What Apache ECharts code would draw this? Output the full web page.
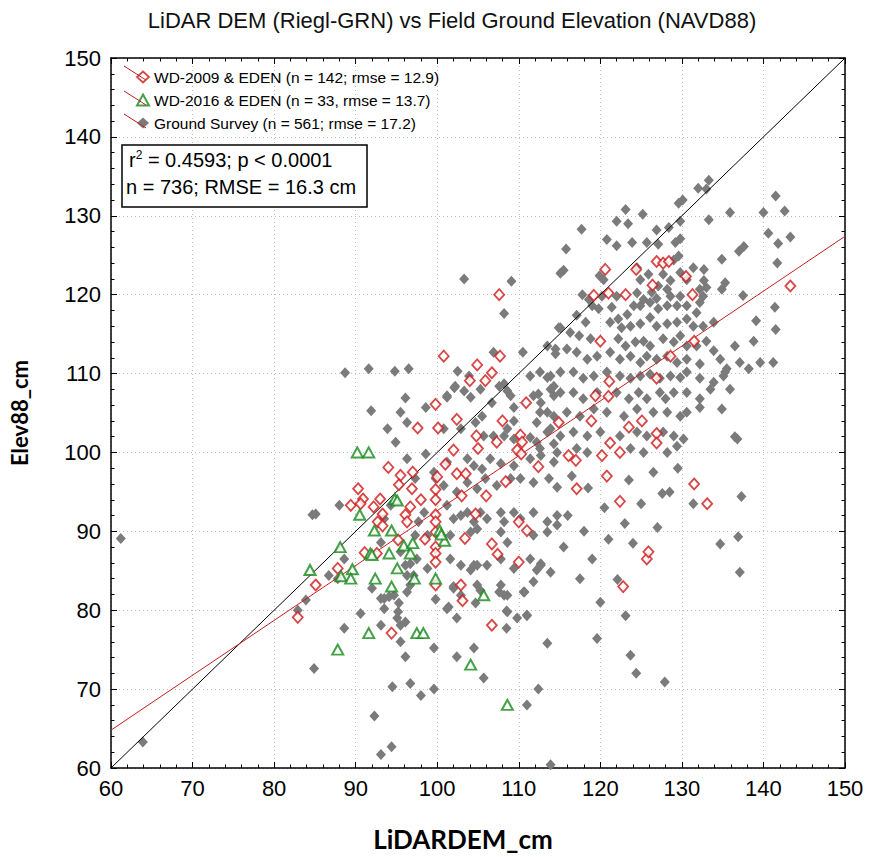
<!DOCTYPE html>
<html>
<head>
<meta charset="utf-8">
<title>LiDAR DEM vs Field Ground Elevation</title>
<script src="https://cdn.jsdelivr.net/npm/echarts@6/dist/echarts.min.js"></script>
<style>
  html, body { margin: 0; padding: 0; background: #ffffff; }
  #chart { width: 870px; height: 857px; }
</style>
</head>
<body>
<div id="chart"></div>
<script>
// Axis range (cm, NAVD88)
const axisMin = 60;
const axisMax = 150;
const axisStep = 10;

// 1:1 reference line and the fitted regression line (end points in data units)
const oneToOneLine = [[60, 60], [150, 150]];
const regressionLine = [[60, 64.8], [150, 127.4]];

// Legend entries and summary statistics
const seriesNames = [
  'WD-2009 & EDEN (n = 142; rmse = 12.9)',
  'WD-2016 & EDEN (n = 33, rmse = 13.7)',
  'Ground Survey (n = 561; rmse = 17.2)'
];
const statsLine1 = ['r', '2', ' = 0.4593; p < 0.0001'];
const statsLine2 = 'n = 736; RMSE = 16.3 cm';

// WD-2009 & EDEN water-depth sites: [LiDAR DEM, field elevation]
const wd2009 = [
  [104.0,109.1],[105.9,109.1],[99.8,106.1],[110.9,106.3],[102.4,104.2],[97.6,103.1],[100.1,103.1],
  [104.8,102.1],[107.3,101.3],[110.2,102.2],[110.4,101.3],[102.0,100.3],[109.8,100.3],[110.3,99.8],
  [112.4,98.2],[94.0,98.1],[95.5,97.1],[102.4,97.3],[103.5,97.3],[95.3,95.9],[100.0,96.9],[108.4,96.3],
  [90.3,95.4],[90.9,94.1],[96.9,95.4],[99.8,95.3],[99.8,94.0],[98.0,94.0],[93.0,94.1],[92.2,93.1],
  [89.4,93.3],[96.7,93.1],[96.1,92.1],[96.3,91.2],[93.3,92.2],[92.7,91.2],[93.3,90.7],[99.8,92.1],
  [99.8,91.2],[99.8,89.9],[104.7,92.2],[110.0,91.2],[111.0,90.1],[95.2,88.9],[103.4,89.1],[106.7,88.4],
  [107.4,87.1],[99.8,88.0],[99.8,87.2],[99.8,86.1],[91.1,87.3],[92.6,87.2],[87.8,85.3],[110.0,86.1],
  [85.1,83.2],[99.8,83.2],[102.9,83.2],[103.1,81.2],[106.7,78.1],[94.4,77.1],[82.9,79.1],[107.6,120.0],
  [100.8,112.2],[104.9,111.1],[107.7,112.2],[106.7,110.1],[120.6,123.2],[124.4,123.2],[126.9,124.2],
  [127.7,124.0],[128.4,124.2],[119.2,119.9],[121.0,120.2],[123.1,120.0],[131.3,120.0],[130.5,122.3],
  [126.4,121.2],[143.3,121.1],[120.0,114.1],[131.5,114.1],[128.6,112.2],[121.1,109.0],[126.9,109.4],
  [119.4,107.2],[121.0,107.1],[114.9,103.8],[118.9,104.0],[123.5,103.2],[125.1,104.0],[126.9,102.4],
  [126.9,101.2],[121.2,101.2],[122.4,100.0],[116.1,99.6],[120.2,99.6],[122.8,83.0],[125.7,86.5],
  [117.1,95.4],[122.4,93.8],[133.1,93.5],[131.5,96.0],[125.9,87.4],[90.6,93.5],[117.0,99.0],[120.8,97.0],
  [101.0,98.5],[105.0,100.5],[108.0,104.0],[106.0,94.5],[98.5,89.0],[97.0,97.5],[103.0,94.5]
];

// WD-2016 & EDEN water-depth sites
const wd2016 = [
  [90.2,100.0],[91.6,100.0],[94.8,94.1],[95.1,93.9],[90.5,92.1],[92.3,90.1],[94.4,90.1],[100.3,90.1],
  [100.9,88.8],[88.1,88.0],[91.8,87.2],[94.1,87.2],[95.9,88.2],[96.7,87.2],[89.6,85.2],[88.2,84.3],
  [84.4,85.1],[89.4,84.0],[92.4,84.0],[95.1,85.3],[97.2,84.0],[99.8,84.0],[94.4,83.0],[91.6,77.1],
  [97.5,77.1],[98.3,77.1],[105.7,81.9],[104.1,73.1],[108.6,68.0],[87.8,75.0],[100.5,89.6],[92.0,87.0],
  [97.0,88.5]
];

// Ground survey points
const groundSurvey = [
  [133.3,134.5],[132.0,133.5],[133.0,133.4],[129.6,131.6],[130.1,132.0],[141.5,132.5],[123.1,130.8],
  [125.2,130.2],[135.9,130.4],[140.0,130.4],[142.6,130.6],[133.3,129.5],[122.0,129.3],[123.4,129.0],
  [117.7,128.3],[129.8,129.3],[128.4,128.5],[126.9,128.2],[129.8,127.1],[129.2,126.6],[120.8,127.0],
  [122.0,126.2],[123.9,126.6],[125.7,126.6],[127.1,126.4],[140.6,127.8],[141.8,126.5],[143.3,127.3],
  [115.8,125.8],[137.6,126.1],[137.0,125.5],[129.6,124.9],[129.0,124.4],[124.5,123.4],[134.9,124.5],
  [141.7,124.0],[115.5,123.1],[119.9,122.4],[120.4,121.9],[131.4,123.4],[132.7,123.2],[124.9,121.9],
  [125.9,122.6],[127.7,122.6],[128.6,121.8],[129.8,122.8],[130.6,121.9],[127.1,121.1],[128.2,120.7],
  [132.7,121.8],[132.2,120.7],[133.0,120.9],[135.3,121.5],[134.9,120.7],[117.8,120.0],[118.6,119.4],
  [120.2,119.8],[122.0,119.8],[124.5,120.2],[125.3,119.4],[126.3,120.3],[126.9,119.5],[128.6,119.8],
  [129.8,119.8],[132.6,119.8],[132.2,119.0],[131.8,117.7],[137.5,119.9],[119.0,118.6],[119.8,118.2],
  [121.4,118.4],[122.2,116.9],[123.3,117.5],[124.1,118.6],[124.9,118.6],[126.1,119.0],[127.1,118.2],
  [128.2,118.6],[129.4,118.6],[130.6,118.6],[141.4,118.4],[117.1,117.4],[118.2,116.5],[121.2,116.5],
  [122.6,115.8],[123.7,116.0],[124.9,116.3],[126.1,117.1],[126.9,116.0],[128.2,116.3],[129.4,116.5],
  [130.6,116.9],[131.4,116.0],[132.6,116.0],[133.9,116.5],[141.5,115.6],[139.1,116.7],[115.1,115.8],
  [116.3,115.2],[117.4,114.8],[118.8,114.4],[122.2,114.4],[123.1,113.5],[124.3,114.0],[125.3,114.1],
  [126.1,113.5],[127.7,114.4],[129.0,114.0],[129.8,114.8],[130.6,113.5],[131.8,113.5],[133.0,114.1],
  [133.9,112.9],[136.5,113.5],[138.8,114.1],[113.5,113.5],[114.5,112.5],[115.9,113.1],[117.1,112.7],
  [118.4,111.8],[119.6,112.2],[121.2,112.7],[122.4,111.8],[123.7,112.2],[124.9,111.4],[125.7,112.2],
  [126.9,111.8],[128.2,112.2],[129.4,111.4],[130.6,111.8],[132.2,111.2],[134.7,111.8],[135.5,110.6],
  [137.1,111.4],[138.2,110.6],[139.6,111.4],[141.2,111.4],[112.6,110.2],[113.9,109.7],[115.1,110.2],
  [116.7,110.2],[117.9,109.4],[119.2,109.7],[120.8,110.2],[122.4,109.7],[123.7,109.4],[124.9,109.7],
  [126.1,109.9],[127.3,109.4],[128.6,109.7],[129.8,109.5],[130.6,110.2],[132.2,109.4],[133.9,108.9],
  [135.1,109.7],[135.9,108.0],[113.9,108.0],[115.1,107.6],[116.7,107.6],[117.9,106.8],[119.6,107.6],
  [122.0,107.6],[123.5,106.8],[124.7,107.6],[125.7,106.8],[127.3,107.6],[129.0,107.6],[130.6,107.6],
  [132.2,106.8],[133.5,108.0],[112.6,105.1],[114.3,104.6],[115.9,105.1],[117.5,104.6],[119.2,105.5],
  [120.8,105.1],[122.9,104.6],[124.5,105.5],[126.5,105.1],[128.0,106.8],[128.2,105.1],[129.8,104.6],
  [130.6,105.1],[113.5,102.6],[115.1,102.1],[116.7,102.6],[118.4,102.1],[120.0,102.6],[122.4,102.1],
  [124.5,102.6],[125.7,102.1],[127.7,102.6],[129.0,102.1],[130.2,101.7],[112.6,100.5],[114.7,100.0],
  [117.1,100.5],[118.4,100.0],[123.7,100.5],[125.3,100.0],[128.2,100.0],[129.4,100.8],[136.5,102.0],
  [134.9,105.5],[132.2,105.7],[135.3,110.2],
  [103.3,122.0],[109.1,121.7],[108.2,117.6],[106.9,112.7],[110.5,112.7],[88.7,110.1],[91.6,110.6],
  [94.8,110.3],[96.5,110.6],[102.5,110.3],[103.9,109.7],[102.1,108.2],[103.3,107.8],[101.2,107.2],
  [96.1,106.9],[108.2,108.7],[108.6,107.8],[111.4,109.7],[113.5,109.5],[114.5,113.1],[114.9,115.8],
  [114.3,108.4],[112.4,107.4],[114.3,107.2],[115.1,122.7],
  [102.2,108.4],[101.2,107.0],[104.1,107.0],[105.3,108.0],[106.7,106.3],[107.6,108.4],[109.0,107.2],
  [109.4,105.7],[111.8,107.2],[112.7,106.3],[113.5,105.1],[112.2,103.8],[109.4,104.0],[108.6,103.0],
  [91.9,105.3],[95.5,105.1],[96.3,103.8],[93.9,103.0],[94.9,101.3],[98.6,105.7],[100.8,103.0],
  [102.9,103.0],[104.7,103.8],[105.5,104.6],[105.7,102.1],[106.9,102.1],[108.2,102.1],[109.4,101.7],
  [111.4,101.9],[112.2,101.3],[113.9,103.0],[114.3,101.1],[96.3,99.2],[98.6,99.8],[99.6,97.5],
  [101.2,98.8],[103.7,99.2],[104.5,98.3],[105.5,97.9],[106.5,99.2],[107.8,98.6],[109.4,98.3],
  [111.4,99.2],[112.7,99.6],[114.3,98.8],[97.3,96.7],[99.8,96.7],[100.8,95.8],[102.4,95.0],
  [103.7,96.2],[104.9,95.4],[105.9,96.7],[107.3,95.8],[109.0,96.7],[110.2,96.7],[111.8,96.2],
  [113.7,96.7],[114.7,95.6],[88.0,93.3],[85.1,92.2],[94.3,93.3],[93.5,91.6],[98.4,92.4],[97.7,91.2],
  [98.8,89.5],[97.3,89.5],[101.2,93.3],[102.0,91.6],[102.9,92.0],[103.7,92.4],[104.5,91.2],
  [105.3,92.4],[106.1,91.6],[107.8,92.4],[108.2,91.2],[109.4,92.4],[110.2,91.6],[111.8,92.4],
  [113.5,91.2],[114.7,92.0],[101.6,89.5],[104.1,89.9],[104.9,90.3],[107.8,89.9],[108.6,88.6],
  [111.8,89.5],[113.5,89.9],[114.7,90.8],[93.1,88.6],[95.5,87.4],[97.5,86.5],[98.8,85.3],[96.7,85.9],
  [101.6,86.5],[102.9,85.7],[104.5,85.7],[106.1,85.7],[107.8,86.5],[109.4,85.3],[111.4,86.5],
  [112.7,85.7],[113.9,84.8],[88.6,86.5],[86.7,84.4],[87.8,84.0],[92.0,82.8],[93.1,81.5],[93.5,80.2],
  [94.7,81.9],[96.3,82.3],[97.1,84.4],[102.0,82.8],[104.9,83.2],[107.8,83.2],[108.6,81.9],[110.6,82.3],
  [111.8,83.6],[90.6,79.6],[88.6,77.7],[95.1,79.0],[95.5,78.1],[93.1,78.1],[101.2,80.2],[102.4,79.0],
  [108.6,79.8],[109.8,79.0],[111.0,79.4],[82.9,80.0],
  [96.1,85.7],[104.1,85.1],[104.9,85.7],[112.2,85.1],[112.7,85.9],[96.3,84.4],[96.7,83.2],[93.5,81.5],
  [94.1,81.7],[95.3,80.9],[95.2,79.8],[96.1,78.5],[99.8,81.4],[101.4,80.4],[102.0,83.0],[102.9,81.9],
  [104.7,80.9],[105.3,82.5],[107.6,82.3],[108.2,81.9],[110.7,82.3],[108.5,79.9],[111.0,79.3],
  [108.5,77.7],[113.5,75.8],[119.6,76.4],[122.1,83.9],[123.1,79.3],[123.7,74.3],[124.4,72.0],
  [127.9,70.9],[137.1,84.8],[95.5,76.0],[96.1,74.1],[99.6,75.2],[102.4,74.1],[104.5,75.2],[105.7,71.4],
  [94.5,70.3],[96.7,70.7],[98.0,69.2],[99.6,70.0],[111.0,68.0],[112.4,70.0],[94.4,62.7],[113.9,60.4],
  [93.1,61.7],[92.3,66.6],
  [61.2,89.1],[84.7,92.1],[83.9,81.3],[63.9,63.3],[84.9,72.6],
  [136.8,101.7],[137.3,94.4],[136.9,89.3],[134.7,88.4],[127.6,94.8],[131.4,93.5],[116.5,97.0],
  [118.5,95.5],[120.5,93.0],[123.5,96.5],[125.0,93.5],[126.5,97.5],[128.5,95.0],[129.5,98.0],
  [116.0,92.0],[118.0,90.0],[121.0,89.0],[123.0,91.0],[119.0,86.5],[115.5,88.0],[117.5,84.0],
  [120.0,81.0],[124.0,88.5],[127.0,90.5]
];

const chart = echarts.init(document.getElementById('chart'), null, { renderer: 'svg' });

const FONT = '"Liberation Sans", Arial, sans-serif';
const NAME_FONT = 'Lato, "Open Sans", sans-serif';
const gridLine = { show: true, lineStyle: { color: '#bdbdbd', width: 1, type: [1, 3] } };
const tickStyle = { color: '#000', width: 1 };

function valueAxis(extra) {
  return Object.assign({
    type: 'value',
    min: axisMin,
    max: axisMax,
    interval: axisStep,
    axisLine: { show: true, onZero: false, lineStyle: { color: '#000', width: 1.5 } },
    axisTick: { show: true, inside: true, length: 6, lineStyle: tickStyle },
    minorTick: { show: true, splitNumber: 5, length: 3.5, lineStyle: tickStyle },
    splitLine: { show: false }
  }, extra);
}

const legendIconStyle = [
  { color: '#ffffff', borderColor: '#d01818', borderWidth: 1.8 },
  { color: '#ffffff', borderColor: '#17891a', borderWidth: 2 },
  { color: '#7b7b7b' }
];

// Short red strokes drawn behind each legend symbol
const legendRows = [73, 98, 121];
const legendStrokes = legendRows.map(y => ({
  type: 'line',
  z: 5,
  shape: { x1: 124, y1: y - 7, x2: 146, y2: y + 7 },
  style: { stroke: '#c02020', lineWidth: 1 }
}));

chart.setOption({
  backgroundColor: '#ffffff',
  animation: false,
  title: {
    text: 'LiDAR DEM (Riegl-GRN) vs Field Ground Elevation (NAVD88)',
    left: 447,
    top: 4,
    textAlign: 'center',
    textStyle: { fontFamily: FONT, fontSize: 22, fontWeight: 'normal', color: '#111' }
  },
  grid: { left: 110, right: 25, top: 58, bottom: 87 },
  xAxis: [
    valueAxis({
      position: 'bottom',
      splitLine: gridLine,
      axisLabel: { color: '#000', fontFamily: FONT, fontSize: 22, margin: 9 },
      name: 'LiDARDEM_cm',
      nameLocation: 'middle',
      nameGap: 58,
      nameTextStyle: { fontFamily: NAME_FONT, fontWeight: 'bold', fontSize: 26, color: '#000', padding: [0, 30, 0, 0] }
    }),
    valueAxis({ position: 'top', axisLabel: { show: false } })
  ],
  yAxis: [
    valueAxis({
      position: 'left',
      splitLine: gridLine,
      axisLabel: { color: '#000', fontFamily: FONT, fontSize: 22, margin: 10 },
      name: 'Elev88_cm',
      nameLocation: 'middle',
      nameGap: 81,
      nameTextStyle: { fontFamily: NAME_FONT, fontWeight: 'bold', fontSize: 22, color: '#000' }
    }),
    valueAxis({ position: 'right', axisLabel: { show: false } })
  ],
  legend: {
    orient: 'vertical',
    left: 131,
    top: 64,
    itemGap: 7,
    itemWidth: 12,
    itemHeight: 11,
    selectedMode: false,
    textStyle: { fontFamily: FONT, fontSize: 15.5, color: '#000' },
    data: [
      { name: seriesNames[0], icon: 'diamond', itemStyle: legendIconStyle[0] },
      { name: seriesNames[1], icon: 'triangle', itemStyle: legendIconStyle[1] },
      { name: seriesNames[2], icon: 'diamond', itemStyle: legendIconStyle[2] }
    ]
  },
  graphic: [
    ...legendStrokes,
    {
      type: 'rect',
      z: 10,
      shape: { x: 122, y: 145, width: 245, height: 62 },
      style: { fill: '#ffffff', stroke: '#000', lineWidth: 1.5 }
    },
    {
      type: 'text',
      z: 11,
      left: 129,
      top: 149,
      style: {
        text: '{a|' + statsLine1[0] + '}{s|' + statsLine1[1] + '}{a|' + statsLine1[2] + '}',
        rich: {
          a: { fontFamily: FONT, fontSize: 20, fill: '#000', verticalAlign: 'bottom' },
          s: { fontFamily: FONT, fontSize: 12, fill: '#000', verticalAlign: 'top', padding: [0, 0, 9, 0] }
        }
      }
    },
    {
      type: 'text',
      z: 11,
      left: 126,
      top: 177,
      style: { text: statsLine2, fontFamily: FONT, fontSize: 20, fill: '#000' }
    }
  ],
  series: [
    {
      name: seriesNames[2],
      type: 'scatter',
      z: 2,
      symbol: 'diamond',
      symbolSize: [10, 11],
      itemStyle: { color: '#7b7b7b', opacity: 1 },
      data: groundSurvey
    },
    {
      name: 'one-to-one',
      type: 'line',
      z: 3,
      silent: true,
      showSymbol: false,
      lineStyle: { color: '#000', width: 1 },
      data: oneToOneLine
    },
    {
      name: 'fit',
      type: 'line',
      z: 3,
      silent: true,
      showSymbol: false,
      lineStyle: { color: '#c42020', width: 1 },
      data: regressionLine
    },
    {
      name: seriesNames[0],
      type: 'scatter',
      z: 4,
      symbol: 'diamond',
      symbolSize: [10, 11],
      itemStyle: legendIconStyle[0],
      data: wd2009
    },
    {
      name: seriesNames[1],
      type: 'scatter',
      z: 5,
      symbol: 'triangle',
      symbolSize: [11, 10],
      itemStyle: legendIconStyle[1],
      data: wd2016
    }
  ]
});
</script>
</body>
</html>
